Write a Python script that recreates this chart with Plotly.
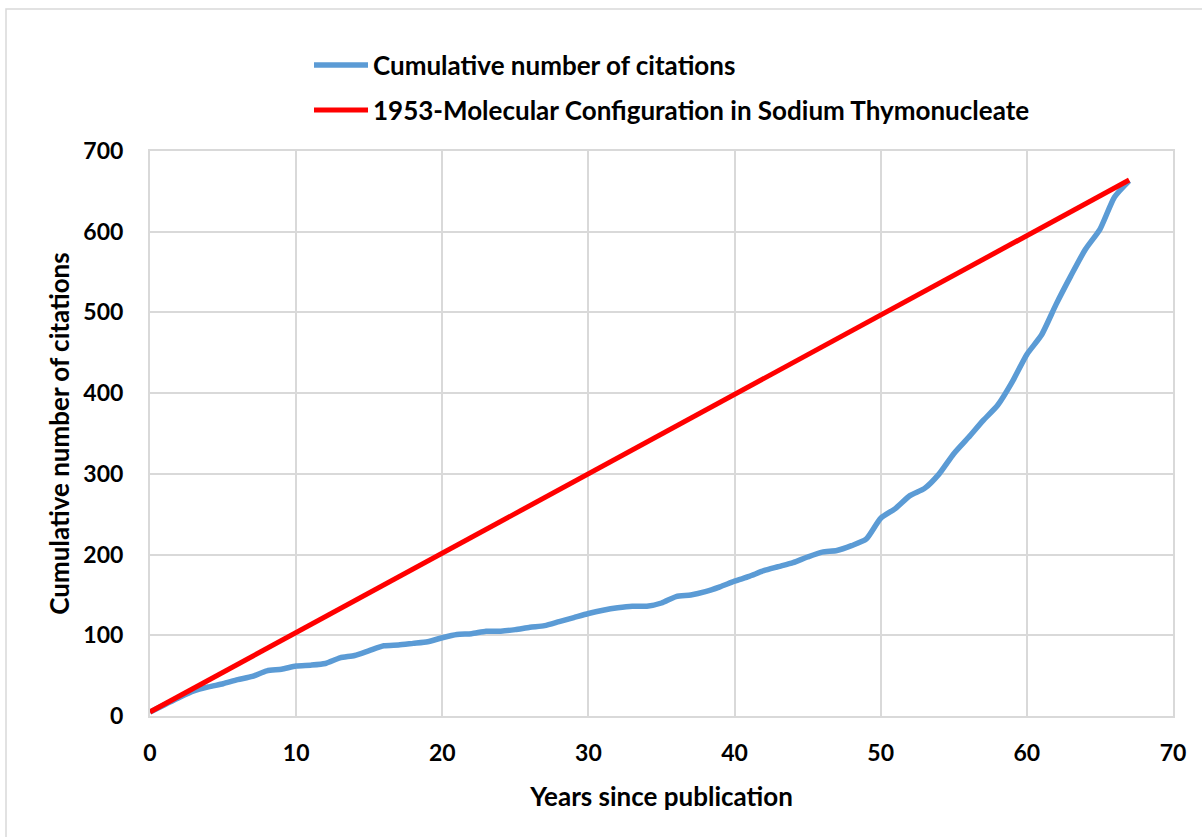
import plotly.graph_objects as go

years = list(range(0, 68))
citations = [5, 14, 23, 31, 36, 40, 45, 49, 56, 58,
             62, 63, 65, 72, 75, 81, 87, 88, 90, 92,
             97, 101, 102, 105, 105, 107, 110, 112, 117, 122,
             127, 131, 134, 136, 136, 140, 148, 150, 154, 160,
             167, 173, 180, 185, 190, 197, 203, 205, 211, 219,
             245, 257, 273, 282, 300, 325, 345, 366, 385, 414,
             448, 472, 510, 545, 578, 603, 643, 663]
line_x = [0, 67]
line_y = [5, 664]

FONT = "Lato, 'Open Sans', sans-serif"
GRID = "#d9d9d9"

fig = go.Figure()
fig.add_trace(go.Scatter(x=years, y=citations, mode="lines",
                         name="<b>Cumulative number of citations</b>",
                         line=dict(color="#5B9BD5", width=5.5, shape="spline", smoothing=0.6),
                         legend="legend", showlegend=True))
fig.add_trace(go.Scatter(x=line_x, y=line_y, mode="lines",
                         name="<b>1953-Molecular Configuration in Sodium Thymonucleate</b>",
                         line=dict(color="#FF0000", width=5),
                         legend="legend2", showlegend=True))

W, H = 1202, 837
L, R, T, B = 150, 29, 151, 121
pw, ph = W - L - R, H - T - B

def px_x(px):
    return (px - L) / pw

def px_y(py):
    return (H - B - py) / ph

fig.update_layout(
    width=W, height=H,
    margin=dict(l=L, r=R, t=T, b=B, autoexpand=False),
    paper_bgcolor="white", plot_bgcolor="white",
    showlegend=True,
    font=dict(family=FONT, color="black", size=26),
    legend=dict(x=px_x(309), y=px_y(65), xanchor="left", yanchor="middle",
                bgcolor="rgba(0,0,0,0)", font=dict(size=26, family=FONT),
                itemwidth=54),
    legend2=dict(x=px_x(309), y=px_y(110), xanchor="left", yanchor="middle",
                 bgcolor="rgba(0,0,0,0)", font=dict(size=26, family=FONT),
                 itemwidth=54),
    xaxis=dict(range=[0, 70], dtick=10, tick0=0, automargin=False,
               showgrid=True, gridcolor=GRID, gridwidth=2,
               showline=True, linecolor=GRID, linewidth=2, mirror=True,
               zeroline=False, ticks="", ticklabelstandoff=15,
               tickfont=dict(size=23, family=FONT),
               title=dict(text="<b>Years since publication</b>", standoff=23,
                          font=dict(size=26, family=FONT))),
    yaxis=dict(range=[0, 700], dtick=100, tick0=0, automargin=False,
               showgrid=True, gridcolor=GRID, gridwidth=2,
               showline=True, linecolor=GRID, linewidth=2, mirror=True,
               zeroline=False, ticks="", ticklabelstandoff=20,
               tickfont=dict(size=23, family=FONT),
               title=dict(text="<b>Cumulative number of citations</b>", standoff=6,
                          font=dict(size=26, family=FONT))),
    shapes=[dict(type="rect", xref="paper", yref="paper",
                 x0=px_x(6), x1=px_x(1230), y0=px_y(870), y1=px_y(9),
                 line=dict(color="#d9d9d9", width=1.5), fillcolor="rgba(0,0,0,0)",
                 layer="below")],
)
fig.update_xaxes(tickprefix="<b>", ticksuffix="</b>")
fig.update_yaxes(tickprefix="<b>", ticksuffix="</b>")

fig.write_html("out.html",
               config={"displayModeBar": False},
               post_script="document.body.style.margin='0';document.body.style.overflow='hidden';")
